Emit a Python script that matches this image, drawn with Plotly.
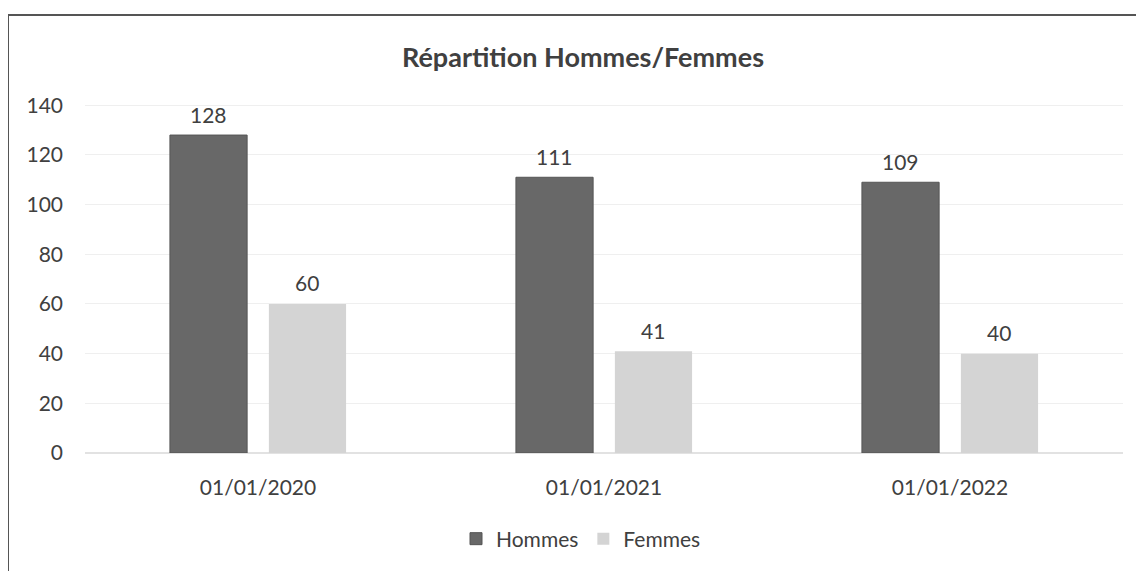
import plotly.graph_objects as go

categories = ["01/01/2020", "01/01/2021", "01/01/2022"]
hommes = [128, 111, 109]
femmes = [60, 41, 40]
y_ticks = [0, 20, 40, 60, 80, 100, 120, 140]

FONT = "Lato, 'Open Sans', sans-serif"
TXT = "#404040"

# page body has an 8px margin, so the figure is drawn 8px in from the window edge
W, H = 1136, 563
l, r, t, b = 77, 21, 96, 114
pw, ph = W - l - r, H - t - b
BARGAP, GROUPGAP = 0.428, 0.22


def px(x):
    return (x - l) / pw


def py(y):
    return (H - b - y) / ph


fig = go.Figure()
fig.add_trace(go.Bar(name="Hommes", x=categories, y=hommes, marker_color="#686868",
                     marker_line_color="#555555", marker_line_width=1))
fig.add_trace(go.Bar(name="Femmes", x=categories, y=femmes, marker_color="#d4d4d4",
                     marker_line_width=0))

slot = pw / len(categories) * (1 - BARGAP) / 2
for vals, sign in ((hommes, -1), (femmes, 1)):
    for c, v in zip(categories, vals):
        fig.add_annotation(x=c, y=v, text=str(v), showarrow=False, xshift=sign * slot / 2,
                           yshift=21, yanchor="middle",
                           font=dict(size=21, color=TXT, family=FONT))

fig.update_layout(
    width=W, height=H,
    margin=dict(l=l, r=r, t=t, b=b),
    paper_bgcolor="white", plot_bgcolor="white",
    barmode="group", bargap=BARGAP, bargroupgap=GROUPGAP,
    font=dict(family=FONT, color=TXT, size=21),
    title=dict(text="<b>Répartition Hommes/Femmes</b>", x=px(575), xref="paper",
               xanchor="center", y=1 - 50 / H, yanchor="middle",
               font=dict(size=27, color=TXT, family=FONT)),
    showlegend=True,
    legend=dict(orientation="h", x=px(573), xanchor="center", y=py(536), yanchor="middle",
                font=dict(size=21, color=TXT, family=FONT), traceorder="normal",
                itemwidth=30),
)
fig.update_yaxes(range=[0, 140.5], tickvals=y_ticks, showgrid=True, gridcolor="#efefef",
                 zeroline=True, zerolinecolor="#e2e2e2", showline=False,
                 tickfont=dict(size=21, color=TXT), ticklabelstandoff=21)
fig.update_xaxes(showgrid=False, showline=False, tickfont=dict(size=21, color=TXT),
                 ticklabelstandoff=20)

fig.add_shape(type="rect", xref="paper", yref="paper",
              x0=px(0), x1=px(1160), y0=py(590), y1=py(6),
              line=dict(color="#555555", width=2), fillcolor="rgba(0,0,0,0)", layer="above")

fig.write_html("out.html")
